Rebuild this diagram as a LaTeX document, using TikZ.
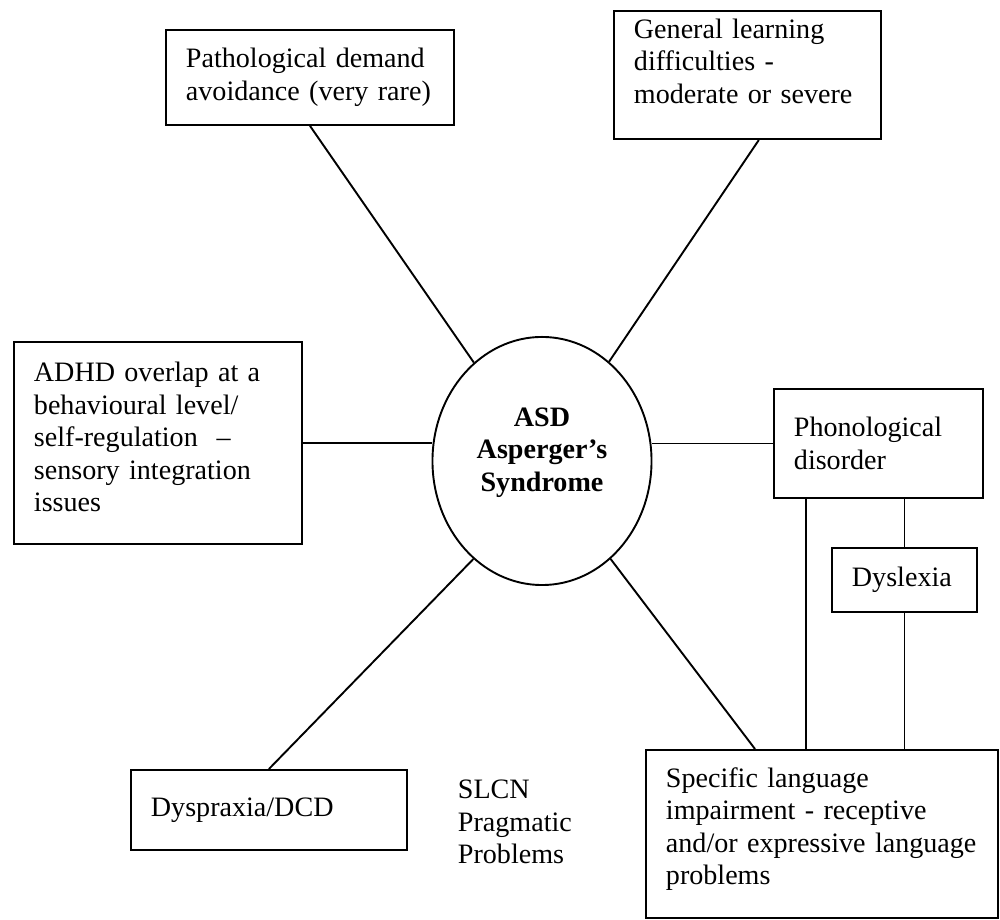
\documentclass[tikz,border=0pt]{standalone}
\usepackage{fontspec}
\setmainfont{Liberation Serif}
\usetikzlibrary{shapes.geometric}

\begin{document}
\begin{tikzpicture}[x=0.42pt, y=-0.42pt, line width=0.8pt,
  every node/.style={font=\fontsize{11.8pt}{13.7pt}\selectfont},
  box/.style={draw, align=left, anchor=north west, inner xsep=8.4pt, inner ysep=0pt},
  hub/.style={draw, ellipse, inner sep=0pt, minimum width=92pt, minimum height=104.2pt, align=center}]
\useasboundingbox (0,0) rectangle (1000,920);

\node[hub] (asd) at (542,461) {\textbf{ASD}\\ \textbf{Asperger’s}\\ \textbf{Syndrome}\\[-4pt]};

\node[box, text width=104.2pt, minimum height=39.9pt] (patho) at (165,29)
  {Pathological demand\\ avoidance (very rare)};
\node[box, text width=95.3pt, minimum height=53.8pt] (general) at (613,10)
  {General learning\\ difficulties -\\ moderate or severe\\[-2pt] \mbox{}};
\node[box, text width=104.2pt, minimum height=84.8pt] (adhd) at (13,341)
  {ADHD overlap at a\\ behavioural level/\\ self-regulation~ --\\ sensory integration\\ issues\\[-8.7pt] \mbox{}};
\node[box, text width=71pt, minimum height=45.8pt] (phono) at (773,388)
  {Phonological\\ disorder};
\node[box, text width=44.1pt, minimum height=26.9pt] (dys) at (831,547) {Dyslexia};
\node[box, text width=131pt, minimum height=70.6pt] (slin) at (645,749)
  {Specific language\\ impairment - receptive\\ and/or expressive language\\ problems\\[-7.1pt] \mbox{}};
\node[box, text width=99.1pt, minimum height=33.6pt] (dysp) at (130,769) {Dyspraxia/DCD};
\node[align=left, anchor=west, inner sep=0pt] (slcn) at (457,822)
  {SLCN\\ Pragmatic\\ Problems};

\draw (patho.south) -- (asd);
\draw ([xshift=4.8pt]general.south) -- (asd);
\draw (adhd.east) -- (adhd.east -| asd.west);
\draw (phono.west) -- (phono.west -| asd.east);
\draw (dysp.north) -- (asd.235);
\draw (asd.305) -- ([xshift=46.2pt]slin.north west);

\coordinate (ph1) at ([xshift=13.9pt]phono.south west);
\draw (ph1) -- (ph1 |- slin.north);
\draw (dys.north) -- (dys.north |- phono.south);
\draw (dys.south) -- (dys.south |- slin.north);
\end{tikzpicture}
\end{document}
